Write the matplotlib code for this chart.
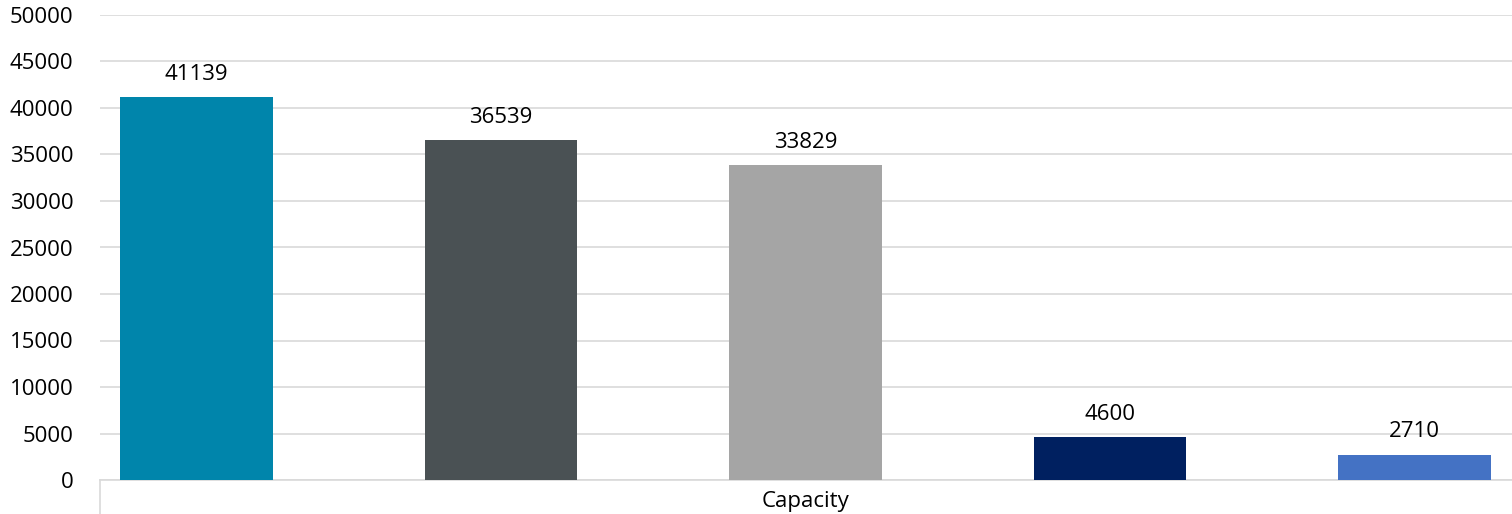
import matplotlib.pyplot as plt

# one category, five series
category = "Capacity"
values = [41139, 36539, 33829, 4600, 2710]
colors = ["#0085AB", "#4A5154", "#A5A5A5", "#002060", "#4472C4"]
yticks = list(range(0, 50001, 5000))

plt.rcParams['font.family'] = ['Open Sans', 'DejaVu Sans']

fig = plt.figure(figsize=(15.12, 5.14), dpi=100)
ax = fig.add_axes([100/1512, 1 - 480/514, 1 - 100/1512, (480 - 15)/514])

xs = range(len(values))
bars = ax.bar(xs, values, width=0.502, color=colors, zorder=3)
for x, v in zip(xs, values):
    ax.annotate(str(v), (x, v), xytext=(0, 9), textcoords='offset points',
                ha='center', va='bottom', fontsize=16, color='black')

ax.set_xlim(-0.317, 4.32)
ax.set_ylim(0, 50000)
ax.set_yticks(yticks)
ax.set_yticklabels([str(t) for t in yticks])
ax.set_xticks([2])
ax.set_xticklabels([category])
ax.grid(axis='y', color='#D9D9D9', linewidth=1.2, zorder=0)
ax.tick_params(axis='y', length=0, pad=19, labelsize=16, labelcolor='black')
ax.tick_params(axis='x', length=0, pad=8, labelsize=16, labelcolor='black')

for s in ['top', 'right', 'left']:
    ax.spines[s].set_visible(False)
ax.spines['bottom'].set_color('#D9D9D9')
ax.spines['bottom'].set_linewidth(1.2)
# category axis divider at the left edge
ax.plot([0, 0], [0, -0.1], transform=ax.transAxes, color='#D9D9D9',
        linewidth=1.2, clip_on=False)

fig.savefig('out.png', dpi=100)
